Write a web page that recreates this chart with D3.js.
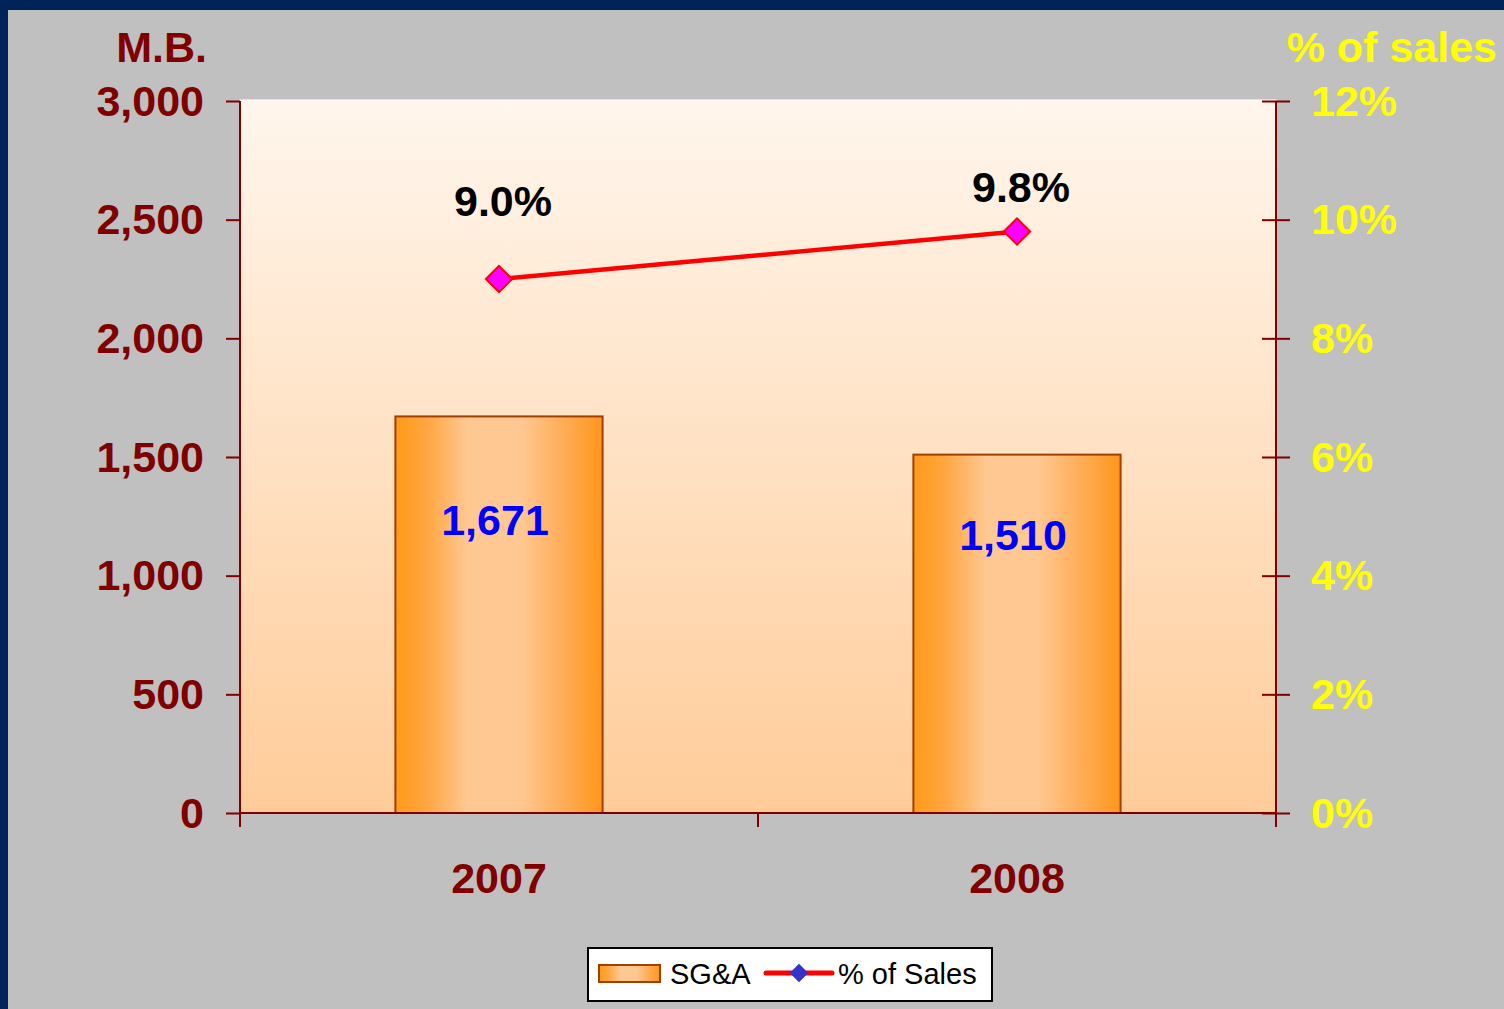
<!DOCTYPE html>
<html>
<head>
<meta charset="utf-8">
<script src="https://cdn.jsdelivr.net/npm/d3@7"></script>
<style>
  html, body { margin: 0; padding: 0; background: #c0c0c0; }
  svg { display: block; }
</style>
</head>
<body>
<svg id="chart" width="1504" height="1009"></svg>
<script>
// chart data
const years = ['2007', '2008'];
const sgaValues = [1671, 1510];
const pctSales = [9.0, 9.8];
const leftTicks = [0, 500, 1000, 1500, 2000, 2500, 3000];
const rightTicks = [0, 2, 4, 6, 8, 10, 12];

const W = 1504, H = 1009;
const margin = { left: 240, right: 228, top: 101, bottom: 196 };
const plotW = W - margin.left - margin.right;
const plotH = H - margin.top - margin.bottom;
const darkRed = '#800000';
const font = 'Liberation Sans, Arial, sans-serif';

const svg = d3.select('#chart');
const defs = svg.append('defs');

// background + navy frame (top and left only)
svg.append('rect').attr('width', W).attr('height', H).attr('fill', '#002458');
svg.append('rect').attr('x', 8).attr('y', 10).attr('width', W - 8).attr('height', H - 10).attr('fill', '#c0c0c0');

const plotGrad = defs.append('linearGradient').attr('id', 'plotGrad')
	.attr('x1', 0).attr('y1', 0).attr('x2', 0).attr('y2', 1);
plotGrad.append('stop').attr('offset', '0%').attr('stop-color', '#fff6ed');
plotGrad.append('stop').attr('offset', '100%').attr('stop-color', '#ffcc99');

const barGrad = defs.append('linearGradient').attr('id', 'barGrad')
	.attr('x1', 0).attr('y1', 0).attr('x2', 1).attr('y2', 0);
barGrad.append('stop').attr('offset', '0%').attr('stop-color', '#ff9a1a');
barGrad.append('stop').attr('offset', '15%').attr('stop-color', '#ffa640');
barGrad.append('stop').attr('offset', '35%').attr('stop-color', '#ffc892');
barGrad.append('stop').attr('offset', '60%').attr('stop-color', '#ffc892');
barGrad.append('stop').attr('offset', '80%').attr('stop-color', '#ffae5a');
barGrad.append('stop').attr('offset', '100%').attr('stop-color', '#ff961a');

const xOuter = d3.scaleBand().domain(years).range([margin.left, margin.left + plotW]);
const yL = d3.scaleLinear().domain([0, 3000]).range([margin.top + plotH, margin.top]);
const yR = d3.scaleLinear().domain([0, 12]).range([margin.top + plotH, margin.top]);

// plot area
svg.append('rect')
	.attr('x', margin.left).attr('y', margin.top - 1)
	.attr('width', plotW).attr('height', plotH + 1)
	.attr('fill', 'url(#plotGrad)')
	.attr('stroke', '#ffffff').attr('stroke-width', 1);

// bars
svg.selectAll('rect.bar').data(sgaValues).join('rect')
	.attr('class', 'bar')
	.attr('x', (d, i) => xOuter(years[i]) + xOuter.bandwidth() * 0.3)
	.attr('width', xOuter.bandwidth() * 0.4)
	.attr('y', d => yL(d))
	.attr('height', d => yL(0) - yL(d))
	.attr('fill', 'url(#barGrad)')
	.attr('stroke', '#a04000').attr('stroke-width', 2);

// bar labels
const barLabelDy = [119, 95];
svg.selectAll('text.barLabel').data(sgaValues).join('text')
	.attr('class', 'barLabel')
	.attr('x', (d, i) => xOuter(years[i]) + xOuter.bandwidth() / 2 - 4)
	.attr('y', (d, i) => yL(d) + barLabelDy[i])
	.attr('text-anchor', 'middle')
	.attr('font-family', font).attr('font-weight', 'bold').attr('font-size', 43)
	.attr('fill', '#0000ff')
	.text(d => d3.format(',')(d));

// axes
const axisLeft = d3.axisLeft(yL).tickValues(leftTicks).tickSize(14).tickPadding(22).tickFormat(d3.format(','));
const gL = svg.append('g').attr('transform', `translate(${margin.left},0)`).call(axisLeft);
const axisRight = d3.axisRight(yR).tickValues(rightTicks).tickSize(14).tickPadding(21).tickFormat(d => d + '%');
const gR = svg.append('g').attr('transform', `translate(${margin.left + plotW},0)`).call(axisRight);
gR.selectAll('.tick line').attr('x1', -14);

[gL, gR].forEach(g => {
	g.select('.domain').remove();
	g.selectAll('.tick line').attr('stroke', darkRed).attr('stroke-width', 2);
	g.selectAll('text').attr('font-family', font).attr('font-weight', 'bold').attr('font-size', 43).attr('dy', '0.33em');
});
gL.selectAll('text').attr('fill', darkRed);
gR.selectAll('text').attr('fill', '#ffff00');

// category axis: labels centred, ticks on band boundaries
const gB = svg.append('g').attr('transform', `translate(0,${margin.top + plotH})`);
gB.selectAll('text.yr').data(years).join('text')
	.attr('class', 'yr')
	.attr('x', d => xOuter(d) + xOuter.bandwidth() / 2)
	.attr('y', 80)
	.attr('text-anchor', 'middle')
	.attr('fill', darkRed)
	.attr('font-family', font).attr('font-weight', 'bold').attr('font-size', 43)
	.text(d => d);
const bounds = years.map(d => xOuter(d)).concat([margin.left + plotW]);
gB.selectAll('line.bt').data(bounds).join('line')
	.attr('class', 'bt')
	.attr('x1', d => d).attr('x2', d => d)
	.attr('y1', 0).attr('y2', 14)
	.attr('stroke', darkRed).attr('stroke-width', 2);

// axis lines
svg.append('line').attr('x1', margin.left).attr('x2', margin.left)
	.attr('y1', margin.top).attr('y2', margin.top + plotH)
	.attr('stroke', darkRed).attr('stroke-width', 2);
svg.append('line').attr('x1', margin.left + plotW).attr('x2', margin.left + plotW)
	.attr('y1', margin.top).attr('y2', margin.top + plotH)
	.attr('stroke', darkRed).attr('stroke-width', 2);
svg.append('line').attr('x1', margin.left).attr('x2', margin.left + plotW)
	.attr('y1', margin.top + plotH).attr('y2', margin.top + plotH)
	.attr('stroke', darkRed).attr('stroke-width', 2);

// axis titles
svg.append('text').attr('x', 207).attr('y', 62).attr('text-anchor', 'end')
	.attr('font-family', font).attr('font-weight', 'bold').attr('font-size', 43)
	.attr('fill', darkRed).text('M.B.');
svg.append('text').attr('x', 1497).attr('y', 62).attr('text-anchor', 'end')
	.attr('font-family', font).attr('font-weight', 'bold').attr('font-size', 43)
	.attr('fill', '#ffff00').text('% of sales');

// line series
const cx = (d, i) => xOuter(years[i]) + xOuter.bandwidth() / 2;
const line = d3.line().x(cx).y(d => yR(d));
svg.append('path').datum(pctSales)
	.attr('d', line)
	.attr('fill', 'none').attr('stroke', '#ff0000').attr('stroke-width', 4.5);
const diamond = d3.symbol().type(d3.symbolDiamond2).size(440);
svg.selectAll('path.mk').data(pctSales).join('path')
	.attr('class', 'mk')
	.attr('transform', (d, i) => `translate(${cx(d, i)},${yR(d)})`)
	.attr('d', diamond)
	.attr('fill', '#ff00ff').attr('stroke', '#ff0000').attr('stroke-width', 2);

const pctLabelDy = [-63, -30];
svg.selectAll('text.pct').data(pctSales).join('text')
	.attr('class', 'pct')
	.attr('x', (d, i) => cx(d, i) + 4)
	.attr('y', (d, i) => yR(d) + pctLabelDy[i])
	.attr('text-anchor', 'middle')
	.attr('font-family', font).attr('font-weight', 'bold').attr('font-size', 43)
	.attr('fill', '#000000')
	.text(d => d.toFixed(1) + '%');

// legend
const lg = svg.append('g').attr('transform', 'translate(588,948)');
lg.append('rect').attr('width', 404).attr('height', 53)
	.attr('fill', '#ffffff').attr('stroke', '#000000').attr('stroke-width', 2);
lg.append('rect').attr('x', 11).attr('y', 17).attr('width', 61).attr('height', 17)
	.attr('fill', 'url(#barGrad)').attr('stroke', '#a04000').attr('stroke-width', 2);
lg.append('text').attr('x', 82).attr('y', 36)
	.attr('font-family', font).attr('font-size', 29).attr('fill', '#000')
	.text('SG&A');
lg.append('line').attr('x1', 178).attr('x2', 244).attr('y1', 25).attr('y2', 25)
	.attr('stroke', '#ff0000').attr('stroke-width', 5).attr('stroke-linecap', 'round');
lg.append('path').attr('transform', 'translate(211,25)')
	.attr('d', d3.symbol().type(d3.symbolDiamond2).size(220))
	.attr('fill', '#3333cc');
lg.append('text').attr('x', 250).attr('y', 36)
	.attr('font-family', font).attr('font-size', 29).attr('fill', '#000')
	.text('% of Sales');
</script>
</body>
</html>
